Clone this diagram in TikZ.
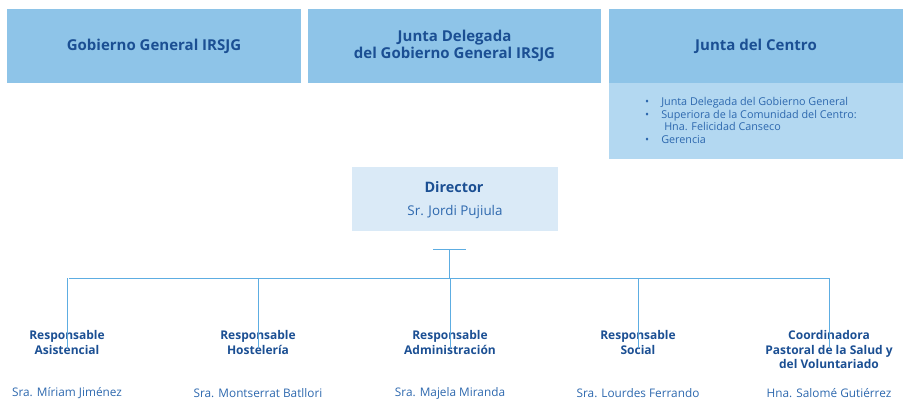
\documentclass[tikz,border=0pt]{standalone}
\usepackage{fontspec}
\setmainfont{Open Sans}
\definecolor{headblue}{HTML}{8EC4E8}
\definecolor{listblue}{HTML}{B3D8F1}
\definecolor{dirblue}{HTML}{DAEAF7}
\definecolor{textblue}{HTML}{1B4F93}
\definecolor{nameblue}{HTML}{2D68AE}
\definecolor{lineblue}{HTML}{5DADE2}
\tikzset{
	headbox/.style={fill=headblue, minimum width=294pt, minimum height=74pt, inner sep=0pt, align=center,
		text=textblue, font=\fontsize{15}{17}\selectfont\bfseries},
	listbox/.style={fill=listblue, minimum width=294pt, minimum height=76pt, inner sep=0pt},
	dirbox/.style={fill=dirblue, minimum width=206pt, minimum height=64pt, inner sep=0pt},
	rolelabel/.style={anchor=north, align=center, inner sep=0pt, text=textblue,
		font=\fontsize{12}{14.8}\selectfont\bfseries},
	namelabel/.style={inner sep=0pt, text=nameblue, font=\fontsize{11.8}{13}\selectfont},
	orgline/.style={draw=lineblue, line width=1pt}
}
\begin{document}
\begin{tikzpicture}[x=1pt,y=-1pt]
	\useasboundingbox (0,0) rectangle (912,403);
	% top row
	\node [headbox] (gob) at (154,46) {Gobierno General IRSJG};
	\node [headbox, minimum width=293pt] (delegada) at (454.5,46) {Junta Delegada\\del Gobierno General IRSJG};
	\node [headbox] (centro) at (756,46) {Junta del Centro};
	\node [listbox] (miembros) at (756,121) {};
	\node [anchor=west, inner sep=0pt, text=nameblue, font=\fontsize{10.8}{12.6}\selectfont] (lista) at (645,122)
		{\begin{tabular}{@{}l@{\hspace{12pt}}l@{}}
			•&Junta Delegada del Gobierno General\\
			•&Superiora de la Comunidad del Centro:\\
			&\hspace{3pt}Hna. Felicidad Canseco\\
			•&Gerencia
		\end{tabular}};
	% director
	\node [dirbox] (director) at (455,199) {};
	\node [text=textblue, inner sep=0pt, font=\fontsize{14.4}{15}\selectfont\bfseries] (dirtit) at (454,187) {Director};
	\node [text=nameblue, inner sep=0pt, font=\fontsize{13.4}{15}\selectfont] (dirnom) at (455,212) {Sr. Jordi Pujiula};
	% connectors
	\coordinate (barl) at (433,250);
	\coordinate (barr) at (466,250);
	\coordinate (barm) at (449.5,250);
	\coordinate (hubm) at (449.5,278);
	\coordinate (hubl) at (69,278);
	\coordinate (hubr) at (829,278);
	\draw [orgline] (barl) -- (barr);
	\draw [orgline] (barm) -- (hubm);
	\draw [orgline] (hubl) -- (hubr);
	% departments
	\foreach \x/\n/\role/\nom in {
		67/asis/{Responsable\\Asistencial}/{Sra. Míriam Jiménez},
		258/host/{Responsable\\Hostelería}/{Sra. Montserrat Batllori},
		450/admin/{Responsable\\Administración}/{Sra. Majela Miranda},
		638/social/{Responsable\\Social}/{Sra. Lourdes Ferrando},
		829/pastoral/{Coordinadora\\Pastoral de la Salud y\\del Voluntariado}/{Hna. Salomé Gutiérrez}}
	{
		\node [rolelabel] (\n) at (\x,330) {\role};
		\node [namelabel] (\n-nom) at (\x,393.5) {\nom};
		\coordinate (\n-top) at (\n.north |- hubm);
		\coordinate (\n-end) at ([yshift=-18pt]\n.north);
		\draw [orgline] (\n-top) -- (\n-end);
	}
\end{tikzpicture}
\end{document}
